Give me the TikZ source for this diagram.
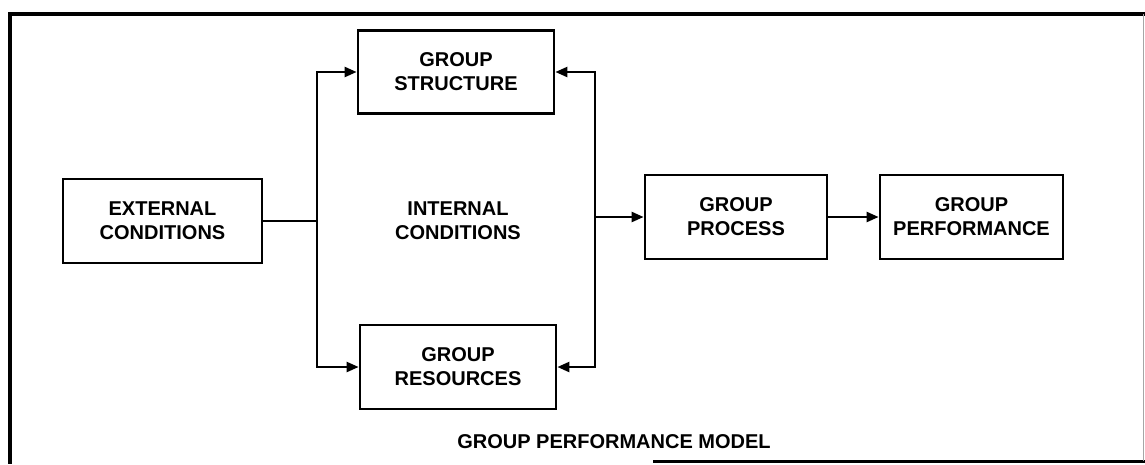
\documentclass[tikz,border=0pt]{standalone}
\usepackage{fontspec}
\setmainfont{Liberation Sans}
\usetikzlibrary{arrows.meta}
\begin{document}
\begin{tikzpicture}[x=1pt,y=-1pt,
  box/.style={draw, line width=2.8pt, inner sep=0pt, align=center,
    font=\fontsize{20}{24}\selectfont\bfseries},
  label/.style={align=center, inner sep=0pt, font=\fontsize{20}{24}\selectfont\bfseries},
  link/.style={line width=2.4pt},
  arrow/.style={link, -{Triangle[length=12pt,width=10pt]}}]
\useasboundingbox (0,0) rectangle (1145,464);

% frame around the figure
\draw[line width=4.5pt] (1145,14) -- (10,14) -- (10,464);
\draw[line width=3pt] (653,461) -- (1145,461);
\draw[line width=1pt, black!35] (1143,14) -- (1143,461);

% blocks
\node[box, minimum width=199, minimum height=84] (ext) at (162.5,221) {EXTERNAL\\CONDITIONS};
\node[box, minimum width=196, minimum height=83] (gs) at (456,72) {GROUP\\STRUCTURE};
\node[box, minimum width=196, minimum height=84] (gr) at (458,367) {GROUP\\RESOURCES};
\node[box, minimum width=182, minimum height=84] (gp) at (736,217) {GROUP\\PROCESS};
\node[box, minimum width=183, minimum height=84] (gperf) at (971.5,217) {GROUP\\PERFORMANCE};
\node[label] (int) at (458,221) {INTERNAL\\CONDITIONS};
\node[label] (cap) at (614,442) {GROUP PERFORMANCE MODEL};

% junctions on the two vertical buses
\coordinate (jl) at (317,221);
\coordinate (jr) at (595,217);

% connectors
\draw[link] (ext.east) -- (jl);
\draw[arrow] (jl) |- (gs.west);
\draw[arrow] (jl) |- (gr.west);
\draw[arrow] (jr) |- (gs.east);
\draw[arrow] (jr) |- (gr.east);
\draw[arrow] (jr) -- (gp.west);
\draw[arrow] (gp.east) -- (gperf.west);
\end{tikzpicture}
\end{document}
